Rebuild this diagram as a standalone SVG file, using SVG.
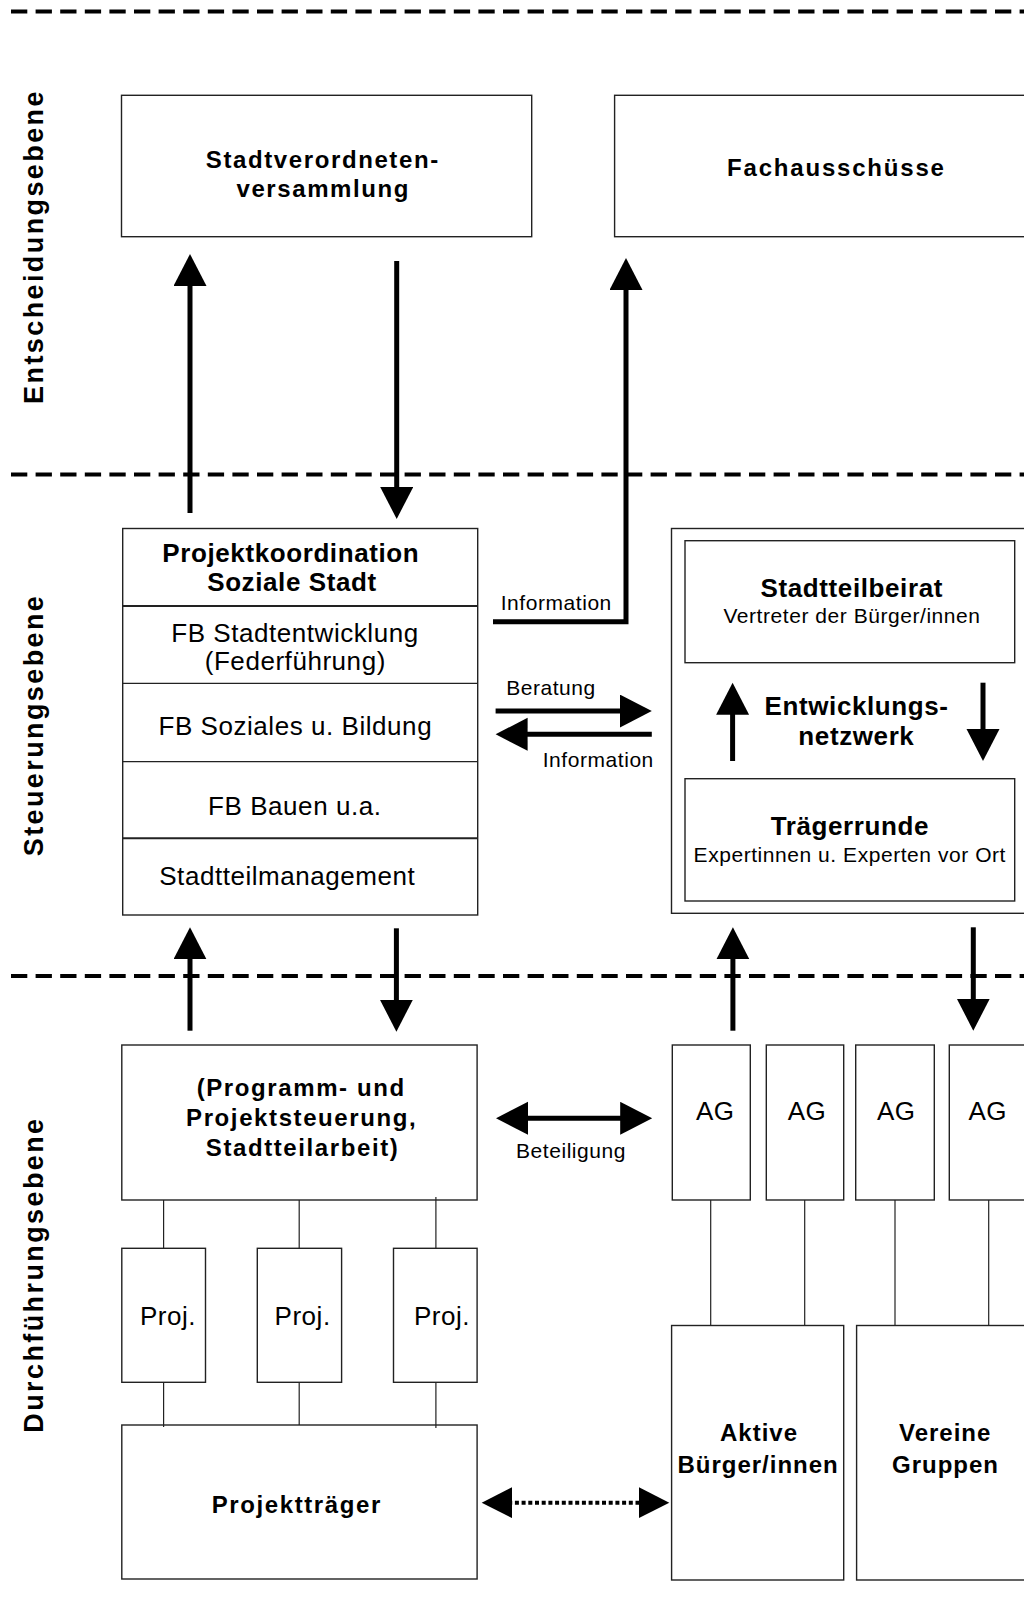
<svg xmlns="http://www.w3.org/2000/svg" width="1024" height="1611" viewBox="0 0 1024 1611">
<style>
.box{fill:#fff;stroke:#222;stroke-width:1.4}
.ln{stroke:#222;stroke-width:1.2;fill:none}
.arr{stroke:#000;stroke-width:5;fill:none}
.dot{stroke:#000;stroke-width:4;fill:none;stroke-dasharray:4 2.7}
.dash{stroke:#000;stroke-width:4;fill:none;stroke-dasharray:16.3 8.3}
text{font-family:"Liberation Sans",Arial,Helvetica,sans-serif;fill:#000;text-anchor:middle}
.b24{font-weight:bold;font-size:24px;letter-spacing:1.6px}
.b24n{font-weight:bold;font-size:24px;letter-spacing:1px}
.b26{font-weight:bold;font-size:26px;letter-spacing:0.6px}
.r26{font-size:26px;letter-spacing:0.55px}
.r21{font-size:21px;letter-spacing:0.55px}
.lab{font-weight:bold;font-size:27px;letter-spacing:2.4px}
</style>
<defs>
<marker id="ah" markerUnits="userSpaceOnUse" markerWidth="34" markerHeight="34" refX="4" refY="16.5" orient="auto-start-reverse">
<path d="M0,0 L32,16.5 L0,33 Z" fill="#000"/>
</marker>
<marker id="ahs" markerUnits="userSpaceOnUse" markerWidth="32" markerHeight="32" refX="4" refY="15.5" orient="auto-start-reverse">
<path d="M0,0 L30.5,15.5 L0,31 Z" fill="#000"/>
</marker>
</defs>
<rect width="1024" height="1611" fill="#fff"/>

<g id="separators">
<line class="dash" x1="11" y1="11.5" x2="1024" y2="11.5"/>
<line class="dash" x1="11" y1="474.5" x2="1024" y2="474.5"/>
<line class="dash" x1="11" y1="976" x2="1024" y2="976"/>
</g>

<g id="level-labels">
<text class="lab" transform="translate(42.6,246.5) rotate(-90)">Entscheidungsebene</text>
<text class="lab" transform="translate(42.6,725) rotate(-90)">Steuerungsebene</text>
<text class="lab" transform="translate(42.6,1274.6) rotate(-90)">Durchführungsebene</text>
</g>

<g id="stadtverordneten">
<rect class="box" x="121.5" y="95.3" width="410.2" height="141.4"/>
<text class="b24" x="322.8" y="168.3">Stadtverordneten-</text>
<text class="b24" x="323.3" y="197">versammlung</text>
</g>

<g id="fachausschuesse">
<rect class="box" x="614.6" y="95.3" width="420" height="141.4"/>
<text class="b24" x="836.4" y="175.7" style="letter-spacing:1.8px">Fachausschüsse</text>
</g>

<g id="projektkoordination">
<rect class="box" x="122.7" y="528.5" width="355" height="386.5"/>
<line class="ln" x1="122.7" y1="606" x2="477.7" y2="606" style="stroke-width:2"/>
<line class="ln" x1="122.7" y1="683.3" x2="477.7" y2="683.3"/>
<line class="ln" x1="122.7" y1="761.7" x2="477.7" y2="761.7"/>
<line class="ln" x1="122.7" y1="838.3" x2="477.7" y2="838.3" style="stroke-width:2"/>
<text class="b26" x="290.8" y="561.7">Projektkoordination</text>
<text class="b26" x="292" y="590.7">Soziale Stadt</text>
<text class="r26" x="295" y="641.7">FB Stadtentwicklung</text>
<text class="r26" x="295.3" y="670">(Federführung)</text>
<text class="r26" x="295.3" y="735">FB Soziales u. Bildung</text>
<text class="r26" x="294.8" y="815">FB Bauen u.a.</text>
<text class="r26" x="287.3" y="885">Stadtteilmanagement</text>
</g>

<g id="entwicklungsnetzwerk">
<rect class="box" x="671.5" y="528.5" width="370" height="384.8"/>
<text class="b26" x="856.6" y="715">Entwicklungs-</text>
<text class="b26" x="856.4" y="745">netzwerk</text>
</g>

<g id="stadtteilbeirat">
<rect class="box" x="685" y="540.7" width="329.7" height="122"/>
<text class="b26" x="851.8" y="596.7">Stadtteilbeirat</text>
<text class="r21" x="852" y="622.7">Vertreter der Bürger/innen</text>
</g>

<g id="traegerrunde">
<rect class="box" x="685" y="778.7" width="329.7" height="122.3"/>
<text class="b26" x="849.8" y="835">Trägerrunde</text>
<text class="r21" x="849.8" y="861.7">Expertinnen u. Experten vor Ort</text>
</g>

<g id="programmsteuerung">
<rect class="box" x="121.8" y="1045" width="355.3" height="155"/>
<text class="b24" x="301.2" y="1096.2">(Programm- und</text>
<text class="b24" x="301.7" y="1126.2">Projektsteuerung,</text>
<text class="b24" x="302.6" y="1156.2">Stadtteilarbeit)</text>
</g>

<g id="ag1">
<rect class="box" x="672.3" y="1045" width="78" height="155"/>
<text class="r26" x="715.3" y="1120">AG</text>
</g>
<g id="ag2">
<rect class="box" x="766.3" y="1045" width="77.4" height="155"/>
<text class="r26" x="807" y="1120">AG</text>
</g>
<g id="ag3">
<rect class="box" x="855.7" y="1045" width="78.6" height="155"/>
<text class="r26" x="896.3" y="1120">AG</text>
</g>
<g id="ag4">
<rect class="box" x="949.3" y="1045" width="90" height="155"/>
<text class="r26" x="987.8" y="1120">AG</text>
</g>

<g id="proj1">
<rect class="box" x="121.8" y="1248.3" width="83.7" height="134"/>
<text class="r26" x="168" y="1325">Proj.</text>
</g>
<g id="proj2">
<rect class="box" x="257.3" y="1248.3" width="84.3" height="134"/>
<text class="r26" x="302.6" y="1325">Proj.</text>
</g>
<g id="proj3">
<rect class="box" x="393.5" y="1248.3" width="83.6" height="134"/>
<text class="r26" x="442" y="1325">Proj.</text>
</g>

<g id="projekttraeger">
<rect class="box" x="121.8" y="1425" width="355.3" height="154"/>
<text class="b24" x="296.8" y="1513">Projektträger</text>
</g>

<g id="aktive-buerger">
<rect class="box" x="671.6" y="1325.5" width="172.1" height="254.5"/>
<text class="b24n" x="759" y="1441">Aktive</text>
<text class="b24n" x="758.1" y="1472.7">Bürger/innen</text>
</g>

<g id="vereine-gruppen">
<rect class="box" x="856.6" y="1325.5" width="180" height="254.5"/>
<text class="b24n" x="945.2" y="1441">Vereine</text>
<text class="b24n" x="945.5" y="1472.7">Gruppen</text>
</g>

<g id="connectors">
<line class="arr" x1="190" y1="513" x2="190" y2="282" marker-end="url(#ah)"/>
<line class="arr" x1="396.7" y1="261" x2="396.7" y2="491" marker-end="url(#ah)"/>
<polyline class="arr" points="493,621.7 626,621.7 626,286" marker-end="url(#ah)"/>
<line class="arr" x1="495.6" y1="711" x2="623.8" y2="711" marker-end="url(#ah)"/>
<line class="arr" x1="651.8" y1="734.3" x2="523.6" y2="734.3" marker-end="url(#ah)"/>
<line class="arr" x1="732.6" y1="761" x2="732.6" y2="710.7" marker-end="url(#ah)"/>
<line class="arr" x1="983" y1="682.7" x2="983" y2="733" marker-end="url(#ah)"/>
<line class="arr" x1="190" y1="1030.7" x2="190" y2="955.3" marker-end="url(#ah)"/>
<line class="arr" x1="396.4" y1="928.3" x2="396.4" y2="1003.7" marker-end="url(#ah)"/>
<line class="arr" x1="732.9" y1="1030.7" x2="732.9" y2="955.3" marker-end="url(#ah)"/>
<line class="arr" x1="973.3" y1="927.3" x2="973.3" y2="1002.7" marker-end="url(#ah)"/>
<line class="arr" x1="524" y1="1118.3" x2="624.2" y2="1118.3" marker-start="url(#ah)" marker-end="url(#ah)"/>
<line class="dot" x1="508.2" y1="1502.7" x2="642.8" y2="1502.7" marker-start="url(#ahs)" marker-end="url(#ahs)"/>
<line class="ln" x1="163.6" y1="1200" x2="163.6" y2="1248.3"/>
<line class="ln" x1="299.2" y1="1200" x2="299.2" y2="1248.3"/>
<line class="ln" x1="435.9" y1="1197" x2="435.9" y2="1248.3"/>
<line class="ln" x1="163.6" y1="1382.3" x2="163.6" y2="1427"/>
<line class="ln" x1="299.2" y1="1382.3" x2="299.2" y2="1425"/>
<line class="ln" x1="435.9" y1="1382.3" x2="435.9" y2="1428"/>
<line class="ln" x1="710.7" y1="1200" x2="710.7" y2="1326"/>
<line class="ln" x1="804.7" y1="1200" x2="804.7" y2="1325.5"/>
<line class="ln" x1="895" y1="1200" x2="895" y2="1325.5"/>
<line class="ln" x1="988.7" y1="1200" x2="988.7" y2="1325.5"/>
<text class="r21" x="556.3" y="610">Information</text>
<text class="r21" x="551" y="695">Beratung</text>
<text class="r21" x="598.3" y="766.7">Information</text>
<text class="r21" x="571" y="1158">Beteiligung</text>
</g>
</svg>
